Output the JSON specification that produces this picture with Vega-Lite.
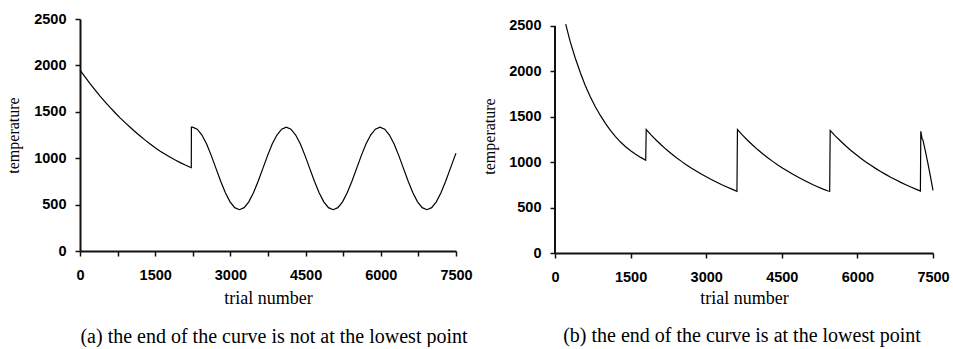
{
  "$schema": "https://vega.github.io/schema/vega-lite/v6.json",
  "background": "white",
  "padding": {"left": 5, "top": 11, "right": 0, "bottom": 0},
  "spacing": 8,
  "config": {
    "view": {"stroke": null},
    "axis": {
      "grid": false,
      "domainColor": "#111",
      "domainWidth": 2,
      "tickColor": "#111",
      "tickWidth": 1.5,
      "tickSize": 5,
      "labelFont": "Liberation Sans",
      "labelFontWeight": "bold",
      "labelFontSize": 14.5,
      "labelColor": "#000",
      "titleFont": "Liberation Serif",
      "titleFontWeight": "normal",
      "titleColor": "#000"
    },
    "title": {"font": "Liberation Serif", "fontSize": 20, "fontWeight": "normal", "color": "#000", "orient": "bottom", "anchor": "middle"}
  },
  "datasets": {
    "a": [
      {"trial":0,"temp":1950},{"trial":100,"temp":1876},{"trial":200,"temp":1804},{"trial":300,"temp":1735},{"trial":400,"temp":1669},{"trial":500,"temp":1607},{"trial":600,"temp":1547},{"trial":700,"temp":1490},{"trial":800,"temp":1435},{"trial":900,"temp":1383},{"trial":1000,"temp":1333},{"trial":1100,"temp":1285},{"trial":1200,"temp":1239},{"trial":1300,"temp":1195},{"trial":1400,"temp":1153},{"trial":1500,"temp":1113},{"trial":1600,"temp":1076},{"trial":1700,"temp":1042},{"trial":1800,"temp":1010},{"trial":1900,"temp":980},{"trial":2000,"temp":952},{"trial":2100,"temp":926},{"trial":2200,"temp":902},{"trial":2220,"temp":898},
      {"trial":2222,"temp":1335},{"trial":2245,"temp":1335},{"trial":2338,"temp":1313},{"trial":2432,"temp":1250},{"trial":2526,"temp":1152},{"trial":2619,"temp":1028},{"trial":2712,"temp":890},{"trial":2806,"temp":752},{"trial":2900,"temp":628},{"trial":2993,"temp":530},{"trial":3086,"temp":467},{"trial":3180,"temp":445},
      {"trial":3274,"temp":467},{"trial":3367,"temp":530},{"trial":3460,"temp":628},{"trial":3554,"temp":752},{"trial":3648,"temp":890},{"trial":3741,"temp":1028},{"trial":3834,"temp":1152},{"trial":3928,"temp":1250},{"trial":4022,"temp":1313},{"trial":4115,"temp":1335},
      {"trial":4208,"temp":1313},{"trial":4302,"temp":1250},{"trial":4396,"temp":1152},{"trial":4489,"temp":1028},{"trial":4582,"temp":890},{"trial":4676,"temp":752},{"trial":4770,"temp":628},{"trial":4863,"temp":530},{"trial":4956,"temp":467},{"trial":5050,"temp":445},
      {"trial":5144,"temp":467},{"trial":5237,"temp":530},{"trial":5330,"temp":628},{"trial":5424,"temp":752},{"trial":5518,"temp":890},{"trial":5611,"temp":1028},{"trial":5704,"temp":1152},{"trial":5798,"temp":1250},{"trial":5892,"temp":1313},{"trial":5985,"temp":1335},
      {"trial":6078,"temp":1313},{"trial":6172,"temp":1250},{"trial":6266,"temp":1152},{"trial":6359,"temp":1028},{"trial":6452,"temp":890},{"trial":6546,"temp":752},{"trial":6640,"temp":628},{"trial":6733,"temp":530},{"trial":6826,"temp":467},{"trial":6920,"temp":445},
      {"trial":7014,"temp":467},{"trial":7107,"temp":530},{"trial":7200,"temp":628},{"trial":7294,"temp":752},{"trial":7388,"temp":890},{"trial":7481,"temp":1028},{"trial":7500,"temp":1054}
    ],
    "b": [
      {"trial":212,"temp":2520},{"trial":300,"temp":2330},{"trial":400,"temp":2150},{"trial":500,"temp":1990},{"trial":600,"temp":1845},{"trial":700,"temp":1720},{"trial":800,"temp":1610},{"trial":900,"temp":1515},{"trial":1000,"temp":1428},{"trial":1100,"temp":1350},{"trial":1200,"temp":1282},{"trial":1300,"temp":1222},{"trial":1400,"temp":1170},{"trial":1500,"temp":1126},{"trial":1600,"temp":1088},{"trial":1700,"temp":1053},{"trial":1800,"temp":1022},
      {"trial":1810,"temp":1360},{"trial":1910,"temp":1298},{"trial":2010,"temp":1242},{"trial":2110,"temp":1189},{"trial":2210,"temp":1139},{"trial":2310,"temp":1093},{"trial":2410,"temp":1050},{"trial":2510,"temp":1009},{"trial":2610,"temp":970},{"trial":2710,"temp":934},{"trial":2810,"temp":900},{"trial":2910,"temp":867},{"trial":3010,"temp":836},{"trial":3110,"temp":807},{"trial":3210,"temp":779},{"trial":3310,"temp":752},{"trial":3410,"temp":727},{"trial":3510,"temp":703},{"trial":3610,"temp":680},
      {"trial":3620,"temp":1360},{"trial":3720,"temp":1298},{"trial":3820,"temp":1242},{"trial":3920,"temp":1189},{"trial":4020,"temp":1139},{"trial":4120,"temp":1093},{"trial":4220,"temp":1050},{"trial":4320,"temp":1009},{"trial":4420,"temp":970},{"trial":4520,"temp":934},{"trial":4620,"temp":900},{"trial":4720,"temp":867},{"trial":4820,"temp":836},{"trial":4920,"temp":807},{"trial":5020,"temp":779},{"trial":5120,"temp":752},{"trial":5220,"temp":727},{"trial":5320,"temp":703},{"trial":5420,"temp":683},{"trial":5450,"temp":679},
      {"trial":5460,"temp":1350},{"trial":5560,"temp":1290},{"trial":5660,"temp":1236},{"trial":5760,"temp":1184},{"trial":5860,"temp":1135},{"trial":5960,"temp":1090},{"trial":6060,"temp":1047},{"trial":6160,"temp":1006},{"trial":6260,"temp":968},{"trial":6360,"temp":932},{"trial":6460,"temp":898},{"trial":6560,"temp":866},{"trial":6660,"temp":835},{"trial":6760,"temp":806},{"trial":6860,"temp":778},{"trial":6960,"temp":752},{"trial":7060,"temp":727},{"trial":7160,"temp":704},{"trial":7250,"temp":683},
      {"trial":7258,"temp":1340},{"trial":7270,"temp":1300},{"trial":7285,"temp":1255},{"trial":7300,"temp":1245},{"trial":7350,"temp":1120},{"trial":7400,"temp":985},{"trial":7450,"temp":840},{"trial":7500,"temp":690}
    ]
  },
  "hconcat": [
    {
      "width": 376,
      "height": 232,
      "data": {"name": "a"},
      "title": {"text": "(a) the end of the curve is not at the lowest point", "offset": 19, "dx": 6},
      "mark": {"type": "line", "color": "#000", "strokeWidth": 1.2},
      "encoding": {
        "x": {
          "field": "trial", "type": "quantitative",
          "scale": {"domain": [0, 7500], "nice": false, "zero": false},
          "axis": {"values": [0,750,1500,2250,3000,3750,4500,5250,6000,6750,7500], "labelExpr": "datum.value % 1500 === 0 ? datum.label : ''", "format": "d", "labelPadding": 12, "labelFlush": false, "labelOverlap": false, "title": "trial number", "titleFontSize": 18, "titlePadding": 8}
        },
        "y": {
          "field": "temp", "type": "quantitative",
          "scale": {"domain": [0, 2500], "nice": false},
          "axis": {"values": [0,500,1000,1500,2000,2500], "format": "d", "labelPadding": 9, "title": "temperature", "titleFontSize": 16, "titlePadding": 12}
        }
      }
    },
    {
      "width": 378,
      "height": 234,
      "data": {"name": "b"},
      "title": {"text": "(b) the end of the curve is at the lowest point", "offset": 18, "dx": -2},
      "layer": [
        {
          "mark": {"type": "line", "color": "#000", "strokeWidth": 1.2},
          "encoding": {
            "x": {
              "field": "trial", "type": "quantitative",
              "scale": {"domain": [0, 7500], "nice": false, "zero": false},
              "axis": {"values": [0,750,1500,2250,3000,3750,4500,5250,6000,6750,7500], "labelExpr": "datum.value % 1500 === 0 ? datum.label : ''", "format": "d", "labelPadding": 12, "labelFlush": false, "labelOverlap": false, "title": "trial number", "titleFontSize": 18, "titlePadding": 6}
            },
            "y": {
              "field": "temp", "type": "quantitative",
              "scale": {"domain": [0, 2577], "nice": false},
              "axis": {"values": [0,500,1000,1500,2000,2500], "format": "d", "domain": false, "labelPadding": 9, "title": "temperature", "titleFontSize": 16, "titlePadding": 11}
            }
          }
        },
        {
          "mark": {"type": "rule", "color": "#111", "strokeWidth": 2},
          "encoding": {
            "x": {"datum": 0, "type": "quantitative"},
            "y": {"datum": 0, "type": "quantitative"},
            "y2": {"datum": 2500}
          }
        }
      ]
    }
  ]
}
